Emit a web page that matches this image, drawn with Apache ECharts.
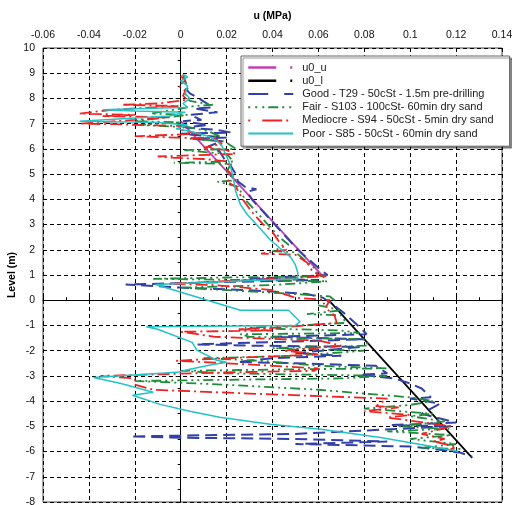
<!DOCTYPE html>
<html>
<head>
<meta charset="utf-8">
<script src="https://cdn.jsdelivr.net/npm/echarts@6/dist/echarts.min.js"></script>
<style>html,body{margin:0;padding:0;background:#fff;}#c{width:512px;height:505px;}</style>
</head>
<body>
<div id="c"></div>
<script>
// Series names
const seriesNames = ['u0_u', 'u0_l', 'Good - T29 - 50cSt - 1.5m pre-drilling', 'Fair - S103 - 100cSt- 60min dry sand', 'Mediocre - S94 - 50cSt - 5min dry sand', 'Poor - S85 - 50cSt - 60min dry sand'];

// [u (MPa), level (m)]
const u0uData = [[0.0, 7.1], [0.0625, 0.9]];
const u0lData = [[0.0645, 0.0], [0.127, -6.25]];

const goodData = [[0.002,8.4],[0.004,8.2],[0.008,8.0],[0.014,7.65],[0.006,7.6],[0.016,7.45],[0.004,7.35],[0.009,7.15],[0.001,7.1],[0.012,6.95],[0.002,6.85],[0.016,6.75],[0.022,6.65],[0.0,6.6],[0.02,6.45],[0.005,6.4],[0.018,6.3],[0.012,6.1],[0.017,5.9],[0.019,5.6],[0.022,5.3],[0.024,5.0],[0.025,4.7],[0.028,4.5],[0.033,4.4],[0.029,4.3],[0.031,4.0],[0.036,3.5],[0.041,3.0],[0.046,2.5],[0.051,2.0],[0.056,1.6],[0.061,1.2],[0.064,1.0],[0.03,0.85],[0.06,0.8],[0.01,0.7],[-0.024,0.62],[-0.018,0.6],[0.0,0.5],[0.03,0.4],[0.055,0.25],[0.062,0.1],[0.066,-0.15],[0.071,-0.5],[0.076,-0.9],[0.08,-1.25],[0.081,-1.35],[0.04,-1.45],[0.08,-1.55],[0.007,-1.75],[0.03,-1.8],[0.078,-1.85],[0.05,-2.1],[0.07,-2.2],[0.04,-2.3],[0.025,-2.45],[0.05,-2.5],[0.085,-2.6],[0.09,-2.9],[0.078,-2.95],[0.093,-3.1],[0.1,-3.3],[0.105,-3.5],[0.109,-3.85],[0.1,-3.9],[0.113,-4.1],[0.105,-4.5],[0.12,-4.85],[0.092,-4.95],[0.118,-5.0],[0.05,-5.3],[-0.022,-5.4],[0.0,-5.45],[0.05,-5.5],[0.09,-5.6],[0.05,-5.7],[0.1,-5.8],[0.115,-5.95],[0.122,-6.05],[0.127,-6.2]];

const fairData = [[0.001,8.95],[0.002,8.7],[0.003,8.4],[0.002,8.1],[0.004,7.9],[0.014,7.75],[0.006,7.7],[0.0,7.6],[-0.013,7.4],[0.003,7.35],[-0.02,7.1],[0.0,7.05],[-0.018,6.95],[0.004,6.85],[0.012,6.7],[0.017,6.5],[0.004,6.4],[0.019,6.3],[0.024,6.0],[0.001,5.95],[0.02,5.8],[0.023,5.5],[-0.003,5.45],[0.022,5.4],[0.02,5.1],[0.024,4.75],[0.016,4.7],[0.025,4.5],[0.028,4.0],[0.033,3.5],[0.038,3.0],[0.043,2.5],[0.047,2.2],[0.04,1.95],[0.05,1.9],[0.054,1.6],[0.058,1.3],[0.06,1.0],[0.063,0.95],[0.02,0.9],[-0.012,0.85],[0.03,0.8],[0.064,0.75],[0.04,0.6],[0.0,0.5],[0.04,0.3],[0.065,0.15],[0.067,0.0],[0.06,-0.2],[0.07,-0.4],[0.055,-0.55],[0.07,-0.6],[0.072,-0.9],[0.05,-1.0],[0.028,-1.1],[0.07,-1.2],[0.078,-1.3],[0.026,-1.35],[0.03,-1.45],[0.08,-1.55],[0.082,-1.8],[0.04,-1.9],[0.08,-2.0],[0.05,-2.2],[0.01,-2.3],[0.035,-2.4],[0.06,-2.6],[0.09,-2.7],[0.04,-2.75],[0.0,-2.8],[0.02,-2.9],[0.09,-3.0],[0.07,-3.1],[-0.02,-3.2],[0.02,-3.35],[0.06,-3.55],[0.1,-3.85],[0.11,-4.0],[0.1,-4.15],[0.08,-4.3],[0.11,-4.5],[0.1,-4.6],[0.115,-4.8],[0.095,-5.0],[0.117,-5.1],[0.09,-5.2],[0.118,-5.35],[0.1,-5.5],[0.12,-5.7],[0.105,-5.85],[0.122,-5.9]];

const mediocreData = [[0.0,8.9],[0.002,8.7],[-0.001,8.5],[0.002,8.3],[0.001,8.1],[0.003,7.95],[-0.01,7.8],[-0.025,7.75],[-0.001,7.7],[-0.03,7.55],[-0.044,7.4],[-0.02,7.35],[-0.034,7.3],[-0.005,7.25],[-0.02,7.15],[-0.044,7.0],[-0.03,6.98],[0.002,6.9],[0.0,6.75],[0.008,6.6],[-0.02,6.5],[-0.002,6.45],[0.015,6.4],[0.018,6.2],[0.01,6.05],[0.02,5.95],[0.024,5.8],[-0.01,5.7],[-0.004,5.65],[0.01,5.6],[0.021,5.5],[0.02,5.2],[0.023,4.9],[0.02,4.7],[0.024,4.5],[0.027,4.0],[0.031,3.5],[0.036,3.0],[0.04,2.7],[0.043,2.3],[0.046,2.0],[0.035,1.85],[0.05,1.8],[0.055,1.5],[0.057,1.2],[0.06,1.0],[0.064,0.95],[0.03,0.8],[-0.005,0.65],[0.015,0.6],[0.04,0.4],[0.05,0.1],[0.065,0.0],[0.063,-0.3],[0.067,-0.6],[0.068,-0.9],[0.04,-1.1],[0.025,-1.15],[0.04,-1.2],[0.0,-1.25],[0.015,-1.45],[0.06,-1.6],[0.07,-1.8],[0.045,-2.0],[0.06,-2.15],[0.02,-2.3],[-0.002,-2.4],[0.02,-2.5],[0.06,-2.7],[0.058,-2.8],[0.025,-2.85],[-0.035,-3.0],[-0.02,-3.1],[-0.02,-3.35],[-0.012,-3.55],[0.03,-3.7],[0.06,-3.8],[0.09,-3.9],[0.085,-4.2],[0.095,-4.25],[0.08,-4.4],[0.1,-4.55],[0.09,-4.65],[0.11,-4.9],[0.118,-5.0],[0.105,-5.3],[0.115,-5.5],[0.11,-5.6],[0.12,-5.8],[0.117,-5.95]];

const poorData = [[0.001,8.95],[0.003,8.85],[0.0,8.7],[0.003,8.5],[0.002,8.2],[0.004,8.0],[0.001,7.8],[0.003,7.65],[-0.034,7.55],[-0.02,7.5],[0.002,7.45],[-0.005,7.3],[-0.044,7.1],[-0.01,7.05],[0.003,6.95],[-0.002,6.8],[0.004,6.7],[0.012,6.5],[0.016,6.3],[0.018,6.1],[0.019,5.9],[0.021,5.5],[0.022,5.2],[0.023,4.8],[0.024,4.3],[0.026,3.8],[0.029,3.4],[0.034,2.9],[0.039,2.4],[0.044,2.0],[0.048,1.7],[0.05,1.4],[0.051,1.1],[0.051,0.85],[-0.011,0.62],[0.026,-0.4],[0.047,-0.4],[0.052,-0.85],[0.05,-1.0],[-0.015,-1.05],[-0.01,-1.15],[0.005,-1.67],[0.007,-1.98],[0.0157,-2.38],[0.02,-2.46],[0.014,-2.55],[0.004,-2.74],[-0.0017,-2.86],[-0.038,-3.06],[-0.026,-3.3],[-0.012,-3.65],[-0.021,-3.77],[-0.009,-4.13],[0.004,-4.4],[0.017,-4.64],[0.039,-4.92],[0.061,-5.12],[0.087,-5.44],[0.104,-5.71],[0.116,-5.91],[0.121,-6.0]];

// Axis ticks
const xMin = -0.06, xMax = 0.14, xStep = 0.02;
const yMin = -8, yMax = 10, yStep = 1;

const FONT = '"Liberation Sans", Arial, sans-serif';
const chart = echarts.init(document.getElementById('c'), null, {renderer: 'canvas'});

function mkSeries(name, data, color, width, type, z) {
  return {
    name: name, type: 'line', data: data, symbol: 'none', z: z,
    lineStyle: {color: color, width: width, type: type},
    itemStyle: {color: color},
    animation: false
  };
}

chart.setOption({
  backgroundColor: '#fff',
  animation: false,
  grid: {left: 43, right: 10, top: 48, bottom: 3, show: true, borderColor: '#444', borderWidth: 1,
         containLabel: false, outerBoundsMode: 'none'},
  xAxis: {
    type: 'value', position: 'top', min: xMin, max: xMax, interval: xStep,
    name: 'u (MPa)', nameLocation: 'middle', nameGap: 26, nameMoveOverlap: false,
    nameTextStyle: {fontFamily: FONT, fontSize: 10.5, fontWeight: 'bold', color: '#000'},
    axisLine: {show: true, lineStyle: {color: '#000', width: 1}},
    axisTick: {show: true, inside: false, length: 4, lineStyle: {color: '#000'}},
    minorTick: {show: true, splitNumber: 2, length: 3, lineStyle: {color: '#000'}},
    axisLabel: {fontFamily: FONT, fontSize: 10.5, color: '#111', margin: 7},
    splitLine: {show: true, lineStyle: {color: '#000', width: 1, type: [4, 3]}}
  },
  yAxis: {
    type: 'value', min: yMin, max: yMax, interval: yStep,
    name: 'Level (m)', nameLocation: 'middle', nameGap: 25, nameMoveOverlap: false,
    nameTextStyle: {fontFamily: FONT, fontSize: 10.5, fontWeight: 'bold', color: '#000'},
    axisLine: {show: true, lineStyle: {color: '#000', width: 1}},
    axisTick: {show: true, inside: false, length: 5, lineStyle: {color: '#000'}},
    minorTick: {show: true, splitNumber: 2, length: 3, lineStyle: {color: '#000'}},
    axisLabel: {fontFamily: FONT, fontSize: 10.5, color: '#111', margin: 8},
    splitLine: {show: true, lineStyle: {color: '#000', width: 1, type: [4, 3]}}
  },
  legend: {
    orient: 'vertical', left: 241, top: 56,
    itemWidth: 45, itemHeight: 14, itemGap: 2,
    padding: [6, 16, 7, 6],
    backgroundColor: '#fff', borderColor: '#666', borderWidth: 1,
    shadowColor: 'rgba(0,0,0,0.45)', shadowBlur: 1, shadowOffsetX: 2, shadowOffsetY: 2,
    itemStyle: {opacity: 0},
    textStyle: {fontFamily: FONT, fontSize: 11, color: '#222', padding: [0, 0, 0, 4]},
    data: [
      {name: seriesNames[0], lineStyle: {type: [28, 14, 2, 100], width: 2.5}},
      {name: seriesNames[1], lineStyle: {type: [28, 14, 2, 100], width: 2.5}},
      {name: seriesNames[2], lineStyle: {type: [20, 16], width: 2}},
      {name: seriesNames[3], lineStyle: {type: [2, 5, 2, 5, 2, 4, 10, 4], width: 2}},
      {name: seriesNames[4], lineStyle: {type: [2, 12, 20, 4], width: 2}},
      {name: seriesNames[5], lineStyle: {width: 2}}
    ]
  },
  series: [
    mkSeries(seriesNames[0], u0uData, '#c040b4', 1.8, 'solid', 2),
    mkSeries(seriesNames[1], u0lData, '#000000', 1.8, 'solid', 3),
    mkSeries(seriesNames[2], goodData, '#3340a8', 2, [12, 6], 4),
    mkSeries(seriesNames[3], fairData, '#1f8c3c', 1.8, [10, 4, 2, 4, 2, 4], 5),
    mkSeries(seriesNames[4], mediocreData, '#ee2424', 1.8, [12, 4, 2, 4], 6),
    mkSeries(seriesNames[5], poorData, '#22c2c6', 1.5, 'solid', 7)
  ]
});
</script>
</body>
</html>
